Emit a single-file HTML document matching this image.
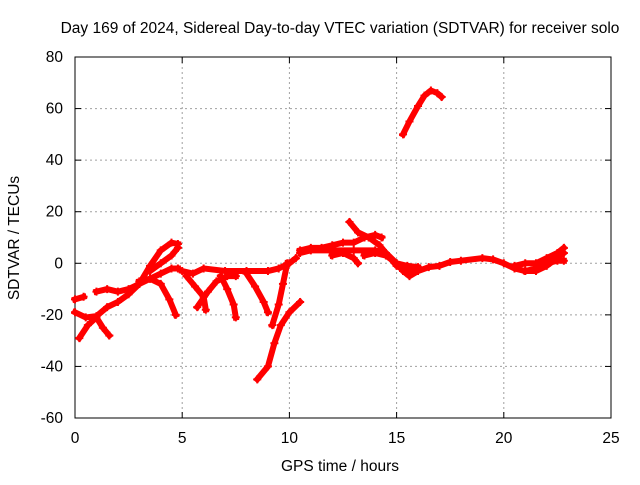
<!DOCTYPE html>
<html><head><meta charset="utf-8"><style>
body{margin:0;background:#fff;}
svg text{font-family:"Liberation Sans",sans-serif;font-size:15.5px;fill:#000;}
</style></head><body>
<svg id="chart" width="640" height="480" xmlns="http://www.w3.org/2000/svg">
<text x="340" y="33" text-anchor="middle">Day 169 of 2024, Sidereal Day-to-day VTEC variation (SDTVAR) for receiver solo</text>
<g id="grid"></g>
<g id="axes"></g>
<g id="series"></g>
<text x="340" y="471" text-anchor="middle">GPS time / hours</text>
<text transform="translate(19,238) rotate(-90)" text-anchor="middle">SDTVAR / TECUs</text>
</svg>
<script>
const xTicks=[0,5,10,15,20,25];
const yTicks=[-60,-40,-20,0,20,40,60,80];
const track1=[[0,-14],[0.4,-13]];
const track2=[[0,-19],[0.5,-21],[1,-20.5],[1.5,-17],[2,-15],[2.5,-12],[3,-8],[3.5,-1],[4,5],[4.5,8],[4.8,7.5]];
const track3=[[0.2,-29],[0.6,-24],[1.0,-21],[1.3,-25],[1.6,-28]];
const track4=[[1,-11],[1.5,-10],[2,-11],[2.5,-10],[3,-8],[3.5,-6],[4,-4],[4.5,-2],[4.8,-2]];
const track5=[[3,-7],[3.5,-6],[4,-8],[4.4,-14],[4.7,-20]];
const track6=[[3.5,-3],[4,0],[4.5,3],[4.8,6]];
const track7=[[5,-3],[5.5,-4],[6,-2],[7,-3],[8,-3],[9,-3],[9.5,-2],[10,0],[10.3,2]];
const track8=[[5.2,-5],[5.6,-9],[6,-13],[6.1,-18]];
const track9=[[5.7,-17],[6.2,-11],[6.6,-7],[7.1,-5],[7.5,-5]];
const track10=[[6.8,-5],[7.1,-10],[7.4,-16],[7.5,-21]];
const track11=[[8,-4],[8.4,-9],[8.8,-15],[9.0,-19]];
const track12=[[8.5,-45],[9,-40],[9.3,-31],[9.6,-24],[10,-19],[10.5,-15]];
const track13=[[9.9,0],[9.7,-8],[9.5,-16],[9.2,-24]];
const track14=[[10.5,5],[11,6],[11.5,6],[12,7],[12.5,8],[13,8],[13.5,10],[14,11],[14.3,10]];
const track15=[[10.5,4],[11,5],[12,5],[13,5],[14,5],[14.5,4],[15,0],[15.3,-3],[15.6,-5],[16,-3],[16.5,-1.5],[17,-1],[17.5,0.5],[18,1],[19,2],[19.5,1.5],[20,0],[20.5,-2],[21,-3],[21.5,-3],[22,-1],[22.5,2],[22.8,4]];
const track16=[[12.8,16],[13.2,12],[13.7,10],[14.2,7],[14.6,3],[15,-1],[15.5,-3],[16,-2]];
const track17=[[13.5,3],[14,4],[14.5,3],[15,0],[15.5,-1],[16,-1.5]];
const track18=[[20.5,-1],[21,0],[21.5,0],[22,2],[22.5,4],[22.8,6]];
const track19=[[21,-3],[21.5,-2],[22,0],[22.5,1],[22.8,1]];
const track20=[[12,3],[12.5,4],[13,2],[13.2,0]];
const track21=[[15.3,50],[15.6,55],[16,61],[16.3,65],[16.6,67],[16.9,66],[17.1,64.5]];
const tracks=[track1,track2,track3,track4,track5,track6,track7,track8,track9,track10,track11,track12,track13,track14,track15,track16,track17,track18,track19,track20,track21];

const X0=75,X1=611,Y0=418,Y1=57;
const sx=v=>X0+(v-0)/25*(X1-X0);
const sy=v=>Y0-(v+60)/140*(Y0-Y1);
const NS="http://www.w3.org/2000/svg";
function mk(tag,attrs,parent){const e=document.createElementNS(NS,tag);for(const k in attrs)e.setAttribute(k,attrs[k]);parent.appendChild(e);return e;}
const grid=document.getElementById('grid'),axes=document.getElementById('axes'),series=document.getElementById('series');
xTicks.forEach(t=>{
  const x=sx(t);
  if(t>0&&t<25){const g=mk('line',{x1:x,x2:x,y1:Y1,y2:Y0,stroke:'#a0a0a0','stroke-dasharray':'2,3'},grid);
  
  }
  const l=mk('text',{x:x,y:Y0+25,'text-anchor':'middle'},axes);l.textContent=t;
  
  
  mk('line',{x1:x,x2:x,y1:Y0,y2:Y0-6,stroke:'#000'},axes);
  mk('line',{x1:x,x2:x,y1:Y1,y2:Y1+6,stroke:'#000'},axes);
});
yTicks.forEach(t=>{
  const y=sy(t);
  if(t>-60&&t<80){const g=mk('line',{x1:X0,x2:X1,y1:y,y2:y,stroke:'#a0a0a0','stroke-dasharray':'2,3'},grid);
  
  }
  const l=mk('text',{x:X0-12,y:y+5,'text-anchor':'end'},axes);l.textContent=t;
  
  
  mk('line',{x1:X0,x2:X0+6,y1:y,y2:y,stroke:'#000'},axes);
  mk('line',{x1:X1,x2:X1-6,y1:y,y2:y,stroke:'#000'},axes);
});
const fr=mk('rect',{x:X0,y:Y1,width:X1-X0,height:Y0-Y1,fill:'none',stroke:'#000'},axes);


tracks.forEach((tr,i)=>{
  const pl=mk('polyline',{points:tr.map(p=>sx(p[0])+','+sy(p[1])).join(' '),fill:'none',stroke:'#ff0000','stroke-width':6,'stroke-linejoin':'round','stroke-linecap':'square'},series);
  
  
  tr.forEach(p=>{
    const x=sx(p[0]),y=sy(p[1]);
    const m=mk('path',{d:`M${x-4},${y}h8M${x},${y-4}v8`,stroke:'#ff0000','stroke-width':2},series);
    
    
  });
});
</script>
</body></html>
